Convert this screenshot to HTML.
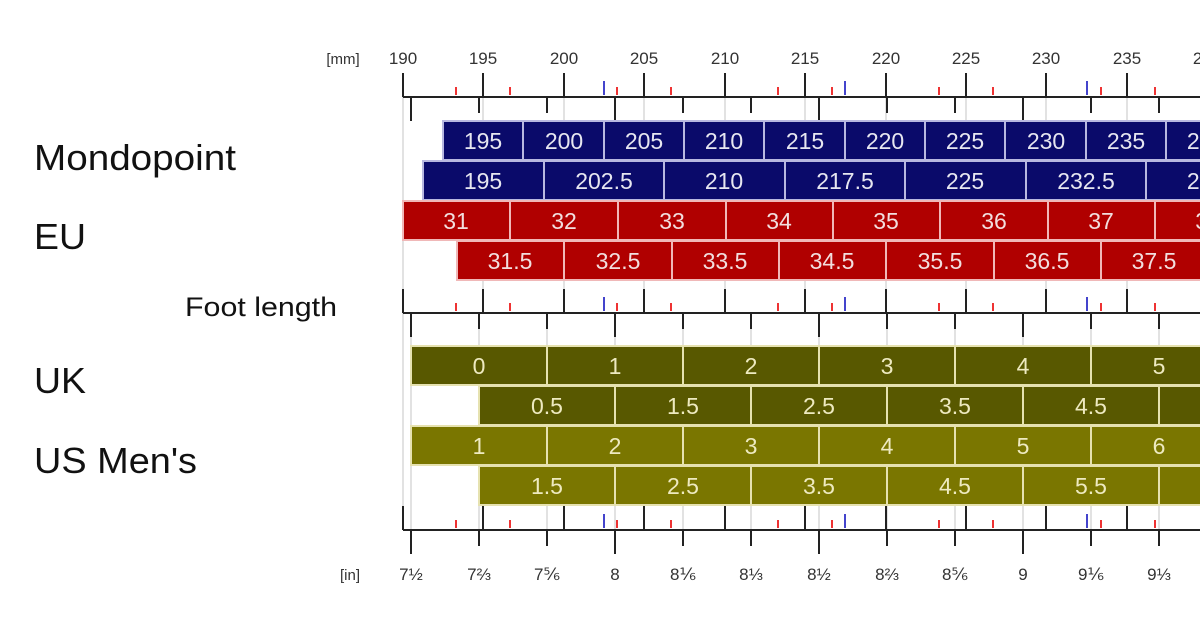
<!DOCTYPE html>
<html><head><meta charset="utf-8"><style>
html,body{margin:0;padding:0;background:#fff;width:1200px;height:628px;overflow:hidden}
svg{display:block;font-family:"Liberation Sans",sans-serif}
</style></head><body>
<svg width="1200" height="628" viewBox="0 0 1200 628">
<defs>
<g id="up5" stroke="#222" stroke-width="2">
<line x1="403" y1="-24" x2="403" y2="0"/><line x1="483" y1="-24" x2="483" y2="0"/><line x1="564" y1="-24" x2="564" y2="0"/><line x1="644" y1="-24" x2="644" y2="0"/><line x1="725" y1="-24" x2="725" y2="0"/><line x1="805" y1="-24" x2="805" y2="0"/><line x1="886" y1="-24" x2="886" y2="0"/><line x1="966" y1="-24" x2="966" y2="0"/><line x1="1046" y1="-24" x2="1046" y2="0"/><line x1="1127" y1="-24" x2="1127" y2="0"/><line x1="1207" y1="-24" x2="1207" y2="0"/>
<line x1="403" y1="0" x2="1200" y2="0"/>
</g>
<g id="dn" stroke="#222" stroke-width="2">
<line x1="411" y1="0" x2="411" y2="24"/><line x1="479" y1="0" x2="479" y2="16"/><line x1="547" y1="0" x2="547" y2="16"/><line x1="615" y1="0" x2="615" y2="24"/><line x1="683" y1="0" x2="683" y2="16"/><line x1="751" y1="0" x2="751" y2="16"/><line x1="819" y1="0" x2="819" y2="24"/><line x1="887" y1="0" x2="887" y2="16"/><line x1="955" y1="0" x2="955" y2="16"/><line x1="1023" y1="0" x2="1023" y2="24"/><line x1="1091" y1="0" x2="1091" y2="16"/><line x1="1159" y1="0" x2="1159" y2="16"/>
</g>
<g id="rb" stroke-width="2">
<g stroke="#e33"><line x1="456" y1="-10" x2="456" y2="-2"/><line x1="510" y1="-10" x2="510" y2="-2"/><line x1="617" y1="-10" x2="617" y2="-2"/><line x1="671" y1="-10" x2="671" y2="-2"/><line x1="778" y1="-10" x2="778" y2="-2"/><line x1="832" y1="-10" x2="832" y2="-2"/><line x1="939" y1="-10" x2="939" y2="-2"/><line x1="993" y1="-10" x2="993" y2="-2"/><line x1="1101" y1="-10" x2="1101" y2="-2"/><line x1="1155" y1="-10" x2="1155" y2="-2"/></g>
<g stroke="#44c"><line x1="604" y1="-16" x2="604" y2="-2"/><line x1="845" y1="-16" x2="845" y2="-2"/><line x1="1087" y1="-16" x2="1087" y2="-2"/></g>
</g>
</defs>

<g stroke="#e2e2e2" stroke-width="2">
<line x1="403" y1="97" x2="403" y2="530"/><line x1="483" y1="97" x2="483" y2="313"/><line x1="564" y1="97" x2="564" y2="313"/><line x1="644" y1="97" x2="644" y2="313"/><line x1="725" y1="97" x2="725" y2="313"/><line x1="805" y1="97" x2="805" y2="313"/><line x1="886" y1="97" x2="886" y2="313"/><line x1="966" y1="97" x2="966" y2="313"/><line x1="1046" y1="97" x2="1046" y2="313"/><line x1="1127" y1="97" x2="1127" y2="313"/>
<line x1="411" y1="313" x2="411" y2="530"/><line x1="479" y1="313" x2="479" y2="530"/><line x1="547" y1="313" x2="547" y2="530"/><line x1="615" y1="313" x2="615" y2="530"/><line x1="683" y1="313" x2="683" y2="530"/><line x1="751" y1="313" x2="751" y2="530"/><line x1="819" y1="313" x2="819" y2="530"/><line x1="887" y1="313" x2="887" y2="530"/><line x1="955" y1="313" x2="955" y2="530"/><line x1="1023" y1="313" x2="1023" y2="530"/><line x1="1091" y1="313" x2="1091" y2="530"/><line x1="1159" y1="313" x2="1159" y2="530"/>
</g>

<use href="#up5" y="97"/><use href="#dn" y="97"/><use href="#rb" y="97"/>
<use href="#up5" y="313"/><use href="#dn" y="313"/><use href="#rb" y="313"/>
<use href="#up5" y="530"/><use href="#dn" y="530"/><use href="#rb" y="530"/>

<g font-size="17" fill="#333" text-anchor="middle">
<text x="343" y="64" font-size="15">[mm]</text>
<text x="403" y="64">190</text><text x="483" y="64">195</text><text x="564" y="64">200</text><text x="644" y="64">205</text><text x="725" y="64">210</text><text x="805" y="64">215</text><text x="886" y="64">220</text><text x="966" y="64">225</text><text x="1046" y="64">230</text><text x="1127" y="64">235</text><text x="1207" y="64">240</text>
</g>
<g font-size="17" fill="#333" text-anchor="middle">
<text x="350" y="580" font-size="15">[in]</text>
<text x="411" y="580">7½</text><text x="479" y="580">7⅔</text><text x="547" y="580">7⅚</text><text x="615" y="580">8</text><text x="683" y="580">8⅙</text><text x="751" y="580">8⅓</text><text x="819" y="580">8½</text><text x="887" y="580">8⅔</text><text x="955" y="580">8⅚</text><text x="1023" y="580">9</text><text x="1091" y="580">9⅙</text><text x="1159" y="580">9⅓</text>
</g>

<g fill="#0a0a6a" stroke="#b8b8e0" stroke-width="2">
<rect x="443" y="121" width="80" height="39"/><rect x="523" y="121" width="81" height="39"/><rect x="604" y="121" width="80" height="39"/><rect x="684" y="121" width="80" height="39"/><rect x="764" y="121" width="81" height="39"/><rect x="845" y="121" width="80" height="39"/><rect x="925" y="121" width="80" height="39"/><rect x="1005" y="121" width="81" height="39"/><rect x="1086" y="121" width="80" height="39"/><rect x="1166" y="121" width="80" height="39"/>
<rect x="423" y="161" width="121" height="39"/><rect x="544" y="161" width="120" height="39"/><rect x="664" y="161" width="121" height="39"/><rect x="785" y="161" width="120" height="39"/><rect x="905" y="161" width="121" height="39"/><rect x="1026" y="161" width="120" height="39"/><rect x="1146" y="161" width="121" height="39"/>
</g>
<g fill="#e6e6f0" font-size="23" text-anchor="middle">
<text x="483" y="149">195</text><text x="564" y="149">200</text><text x="644" y="149">205</text><text x="724" y="149">210</text><text x="805" y="149">215</text><text x="885" y="149">220</text><text x="965" y="149">225</text><text x="1046" y="149">230</text><text x="1126" y="149">235</text><text x="1206" y="149">240</text>
<text x="483" y="189">195</text><text x="604" y="189">202.5</text><text x="724" y="189">210</text><text x="845" y="189">217.5</text><text x="965" y="189">225</text><text x="1086" y="189">232.5</text><text x="1206" y="189">240</text>
</g>

<g fill="#b00000" stroke="#f0b8b8" stroke-width="2">
<rect x="403" y="201" width="107" height="39"/><rect x="510" y="201" width="108" height="39"/><rect x="618" y="201" width="108" height="39"/><rect x="726" y="201" width="107" height="39"/><rect x="833" y="201" width="107" height="39"/><rect x="940" y="201" width="108" height="39"/><rect x="1048" y="201" width="107" height="39"/><rect x="1155" y="201" width="107" height="39"/>
<rect x="457" y="241" width="107" height="39"/><rect x="564" y="241" width="108" height="39"/><rect x="672" y="241" width="107" height="39"/><rect x="779" y="241" width="107" height="39"/><rect x="886" y="241" width="108" height="39"/><rect x="994" y="241" width="107" height="39"/><rect x="1101" y="241" width="107" height="39"/>
</g>
<g fill="#f2dede" font-size="23" text-anchor="middle">
<text x="456" y="229">31</text><text x="564" y="229">32</text><text x="672" y="229">33</text><text x="779" y="229">34</text><text x="886" y="229">35</text><text x="994" y="229">36</text><text x="1101" y="229">37</text><text x="1208" y="229">38</text>
<text x="510" y="269">31.5</text><text x="618" y="269">32.5</text><text x="725" y="269">33.5</text><text x="832" y="269">34.5</text><text x="940" y="269">35.5</text><text x="1047" y="269">36.5</text><text x="1154" y="269">37.5</text>
</g>

<g fill="#585800" stroke="#e6e2b0" stroke-width="2">
<rect x="411" y="346" width="136" height="39"/><rect x="547" y="346" width="136" height="39"/><rect x="683" y="346" width="136" height="39"/><rect x="819" y="346" width="136" height="39"/><rect x="955" y="346" width="136" height="39"/><rect x="1091" y="346" width="136" height="39"/>
<rect x="479" y="386" width="136" height="39"/><rect x="615" y="386" width="136" height="39"/><rect x="751" y="386" width="136" height="39"/><rect x="887" y="386" width="136" height="39"/><rect x="1023" y="386" width="136" height="39"/><rect x="1159" y="386" width="136" height="39"/>
</g>
<g fill="#7a7600" stroke="#e6e2b0" stroke-width="2">
<rect x="411" y="426" width="136" height="39"/><rect x="547" y="426" width="136" height="39"/><rect x="683" y="426" width="136" height="39"/><rect x="819" y="426" width="136" height="39"/><rect x="955" y="426" width="136" height="39"/><rect x="1091" y="426" width="136" height="39"/>
<rect x="479" y="466" width="136" height="39"/><rect x="615" y="466" width="136" height="39"/><rect x="751" y="466" width="136" height="39"/><rect x="887" y="466" width="136" height="39"/><rect x="1023" y="466" width="136" height="39"/><rect x="1159" y="466" width="136" height="39"/>
</g>
<g fill="#eeeac0" font-size="23" text-anchor="middle">
<text x="479" y="374">0</text><text x="615" y="374">1</text><text x="751" y="374">2</text><text x="887" y="374">3</text><text x="1023" y="374">4</text><text x="1159" y="374">5</text>
<text x="547" y="414">0.5</text><text x="683" y="414">1.5</text><text x="819" y="414">2.5</text><text x="955" y="414">3.5</text><text x="1091" y="414">4.5</text>
<text x="479" y="454">1</text><text x="615" y="454">2</text><text x="751" y="454">3</text><text x="887" y="454">4</text><text x="1023" y="454">5</text><text x="1159" y="454">6</text>
<text x="547" y="494">1.5</text><text x="683" y="494">2.5</text><text x="819" y="494">3.5</text><text x="955" y="494">4.5</text><text x="1091" y="494">5.5</text>
</g>

<g fill="#111" font-size="36">
<text x="34" y="170" textLength="202" lengthAdjust="spacingAndGlyphs">Mondopoint</text>
<text x="34" y="249" textLength="52" lengthAdjust="spacingAndGlyphs">EU</text>
<text x="185" y="316" font-size="27" textLength="152" lengthAdjust="spacingAndGlyphs">Foot length</text>
<text x="34" y="393" textLength="52" lengthAdjust="spacingAndGlyphs">UK</text>
<text x="34" y="473" textLength="163" lengthAdjust="spacingAndGlyphs">US Men's</text>
</g>
</svg>
</body></html>
